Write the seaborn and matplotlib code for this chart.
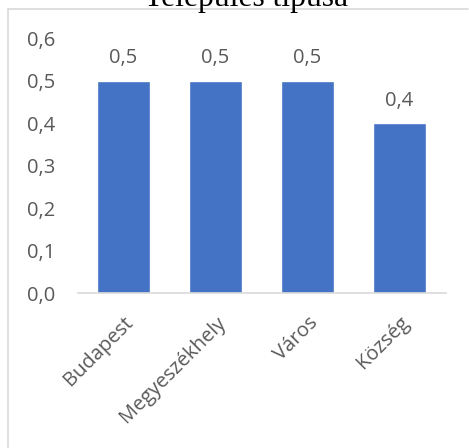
import matplotlib
matplotlib.use("Agg")
import matplotlib.pyplot as plt
from matplotlib.lines import Line2D
import seaborn as sns
import pandas as pd

categories = ["Budapest", "Megyeszékhely", "Város", "Község"]
values = [0.5, 0.5, 0.5, 0.4]
y_ticks = [0.0, 0.1, 0.2, 0.3, 0.4, 0.5, 0.6]
title = "Település típusa"

BAR_COLOR = "#4472C4"
TEXT_COLOR = "#595959"
LINE_COLOR = "#D9D9D9"

sns.set_style("white")
plt.rcParams["font.family"] = ["Open Sans", "DejaVu Sans"]

df = pd.DataFrame({"cat": categories, "val": values})

fig = plt.figure(figsize=(4.69, 4.48), dpi=100)
ax = fig.add_axes([77.5 / 469, 1 - 293 / 448, 368 / 469, (293 - 38.6) / 448])

sns.barplot(data=df, x="cat", y="val", color=BAR_COLOR, width=0.57,
            saturation=1, ax=ax)

ax.set_ylim(0, 0.6)
ax.set_xlim(-0.5, len(categories) - 0.5)
ax.set_yticks(y_ticks)
ax.set_yticklabels([f"{t:.1f}".replace(".", ",") for t in y_ticks])
ax.set_xlabel("")
ax.set_ylabel("")

for lbl in ax.get_xticklabels():
    lbl.set_rotation(45)
    lbl.set_ha("right")
    lbl.set_rotation_mode("anchor")

ax.tick_params(axis="y", length=0, pad=16, labelsize=14.5, labelcolor=TEXT_COLOR)
ax.tick_params(axis="x", length=0, pad=14, labelsize=14.5, labelcolor=TEXT_COLOR)

for s in ["top", "right", "left"]:
    ax.spines[s].set_visible(False)
ax.spines["bottom"].set_color(LINE_COLOR)
ax.spines["bottom"].set_linewidth(1.2)

for i, v in enumerate(values):
    ax.annotate(f"{v:.1f}".replace(".", ","), (i, v), xytext=(0, 9),
                textcoords="offset points", ha="center", va="bottom",
                fontsize=14.5, color=TEXT_COLOR)

# chart frame (partly outside the picture) and title above it
fig.add_artist(Line2D([8 / 469, 8 / 469], [0, 1 - 9 / 448], color=LINE_COLOR,
                      lw=1.2, transform=fig.transFigure))
fig.add_artist(Line2D([8 / 469, 468 / 469], [1 - 9 / 448, 1 - 9 / 448],
                      color=LINE_COLOR, lw=1.2, transform=fig.transFigure))
fig.text(246 / 469, 1 - 6 / 448, title, ha="center", va="baseline",
         fontsize=22.8, family=["Liberation Serif", "DejaVu Serif"], color="black")

fig.savefig("out.png", dpi=100)
